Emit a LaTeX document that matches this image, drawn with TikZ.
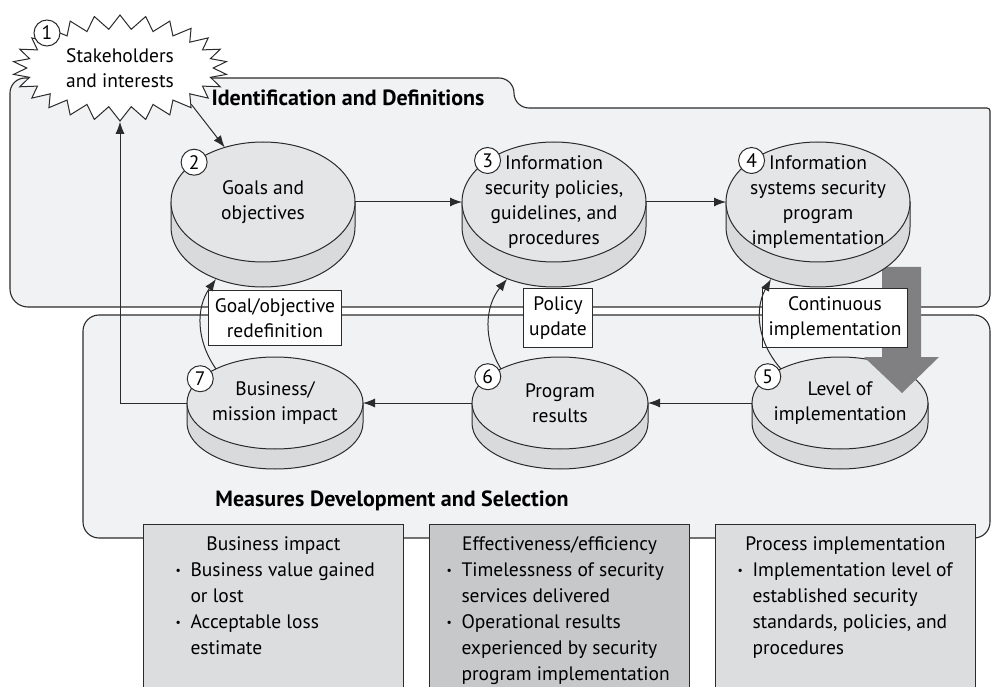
\documentclass[tikz,border=0pt]{standalone}
\usepackage{fontspec}
\setmainfont{PT Sans}
\usetikzlibrary{positioning, shapes.geometric, shapes.symbols, arrows.meta}

\definecolor{frame-fill}{HTML}{F1F2F4}
\definecolor{disk-top}{HTML}{E4E5E7}
\definecolor{disk-side}{HTML}{D9DADC}
\definecolor{box-light}{HTML}{DCDDDF}
\definecolor{box-dark}{HTML}{C7C8CA}
\definecolor{push-gray}{HTML}{808083}
\definecolor{line-a}{HTML}{2B2B2B}

\newcommand{\bul}{\par\hangindent=15pt\hangafter=1\noindent\makebox[15pt][l]{\raisebox{2pt}{\scalebox{.6}{\textbullet}}}}

\begin{document}
\begin{tikzpicture}
[
x=1pt, y=-1pt,
text-a/.style={text=black, align=center, inner sep=0pt, font=\fontsize{19.5}{25}\selectfont},
text-b/.style={text-a, font=\fontsize{22}{25}\selectfont\bfseries},
frame-a/.style={draw=line-a, fill=frame-fill, line width=1.1pt},
disk-edge/.style={draw=line-a, line width=1pt},
disk-face/.style={ellipse, disk-edge, fill=disk-top, inner sep=0pt, outer sep=0pt},
num-a/.style={circle, draw=line-a, fill=white, line width=1pt, minimum size=26pt, inner sep=0pt, font=\fontsize{19.5}{25}\selectfont},
tag-a/.style={text-a, draw=line-a, fill=white, line width=1pt, inner xsep=6pt, inner ysep=8pt},
box-a/.style={draw=line-a, fill=box-light, line width=1pt, inner xsep=5pt, inner ysep=12pt, font=\fontsize{19.5}{26}\selectfont},
box-b/.style={box-a, fill=box-dark},
link-a/.style={-{Latex[length=12pt, width=9pt]}, draw=line-a, line width=1pt},
disk-a/.pic={
  \path[disk-edge, fill=disk-side] (-92pt,0pt) -- (-92pt,-25pt) arc[start angle=180, end angle=360, x radius=92pt, y radius=60pt] -- (92pt,0pt) -- cycle;
  \node (-top) [disk-face, minimum width=184pt, minimum height=120pt] {};
  \coordinate (-foot) at (-47pt,-77pt);
},
disk-b/.pic={
  \path[disk-edge, fill=disk-side] (-88pt,0pt) -- (-88pt,-20pt) arc[start angle=180, end angle=360, x radius=88pt, y radius=46pt] -- (88pt,0pt) -- cycle;
  \node (-top) [disk-face, minimum width=176pt, minimum height=92pt] {};
}
]
\useasboundingbox (0,0) rectangle (991,687);

% frames
\path[frame-a] (10,200) [rounded corners=15pt] -- (10,78) -- (514,78) -- (514,108) [rounded corners=3pt] -- (990,108) [rounded corners=12pt] -- (990,307) [rounded corners=18pt] -- (10,307) -- cycle;
\path[frame-a, rounded corners=16pt] (83,315) rectangle (990,538);

% lower row
\pic (mission) at (275,403) {disk-b};
\pic (results) at (560,403) {disk-b};
\pic (level)   at (840,403) {disk-b};

\path[fill=push-gray] (882,267) -- (921,267) -- (921,357) -- (939,357) -- (902,393) -- (864,357) -- (882,357) -- cycle;

% upper row
\pic (goals)    at (263,202) {disk-a};
\pic (policies) at (554,202) {disk-a};
\pic (program)  at (818,202) {disk-a};

\node (stake) [starburst, starburst points=26, starburst point height=14pt, random starburst=0, draw=line-a, fill=white, line width=1pt, text-a, inner xsep=12pt, inner ysep=8pt] at (120,68) {Stakeholders\\and interests};

\node (redef)      [tag-a] at (275,318) {Goal/objective\\redefinition};
\node (update)     [tag-a] at (558,318) {Policy\\update};
\node (continuous) [tag-a] at (835,318) {Continuous\\implementation};

\node (goals-text)    [text-a] at (goals-top)    {Goals and\\objectives};
\node (policies-text) [text-a] at (policies-top) {Information\\security policies,\\guidelines, and\\procedures};
\node (program-text)  [text-a] at (program-top)  {Information\\systems security\\program\\implementation};
\node (level-text)    [text-a] at (level-top)    {Level of\\implementation};
\node (results-text)  [text-a] at (results-top)  {Program\\results};
\node (mission-text)  [text-a] at (mission-top)  {Business/\\mission impact};

\node (num-1) [num-a] at (47,33)              {1};
\node (num-2) [num-a] at (goals-top.150)      {2};
\node (num-3) [num-a] at (policies-top.148)   {3};
\node (num-4) [num-a] at (program-top.148)    {4};
\node (num-5) [num-a] at (level-top.160)      {5};
\node (num-6) [num-a] at (results-top.160)    {6};
\node (num-7) [num-a] at (mission-top.162)    {7};

\node (ident)    [text-b] at (348,98)  {Identification and Definitions};
\node (measures) [text-b] at (392,501) {Measures Development and Selection};

\node (impact) [box-a, anchor=north west] at (143,524) {\parbox[t][150pt][t]{250pt}{{\centering Business impact\par}\raggedright\leftskip=27pt
\bul Business value gained\newline or lost
\bul Acceptable loss\newline estimate}};
\node (effect) [box-b, right = 25pt of impact] {\parbox[t][150pt][t]{250pt}{{\centering Effectiveness/efficiency\par}\raggedright\leftskip=12pt
\bul Timelessness of security\newline services delivered
\bul Operational results\newline experienced by security\newline program implementation}};
\node (process) [box-a, right = 25pt of effect] {\parbox[t][150pt][t]{250pt}{{\centering Process implementation\par}\raggedright\leftskip=17pt
\bul Implementation level of\newline established security\newline standards, policies, and\newline procedures}};

% links
\draw[link-a] (stake.-27) -- (goals-top.125);
\draw[link-a] (goals-top) -- (policies-top);
\draw[link-a] (policies-top) -- (program-top);
\draw[link-a] (level-top) -- (results-top);
\draw[link-a] (results-top) -- (mission-top);
\draw[link-a] (mission-top.west) -| (stake.south);
\draw[link-a] (mission-top.150) to[bend left=35] (goals-foot);
\draw[link-a] (results-top.150) to[bend left=35] (policies-foot);
\draw[link-a] (level-top.150)   to[bend left=35] (program-foot);
\end{tikzpicture}
\end{document}
